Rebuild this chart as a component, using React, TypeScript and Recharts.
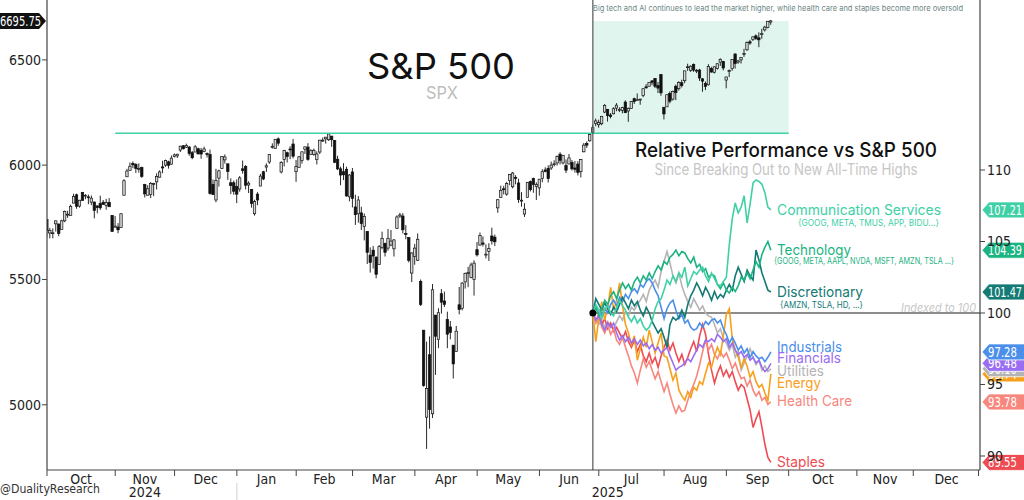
import React from 'react';
import { ComposedChart, Bar, Line, XAxis, YAxis, ReferenceLine, ReferenceArea, ReferenceDot } from 'recharts';

const NARROW = '"Liberation Sans Narrow", "DejaVu Sans Condensed", "Liberation Sans", sans-serif';
const SANS = 'Inter, "Noto Sans", sans-serif';

// S&P 500 daily candles [open, high, low, close], one per trading day from Oct 1 2024
const spxOHLC: number[][] = [
  // Oct 2024
  [5757,5757,5681,5709],[5698,5720,5675,5709],[5698,5718,5675,5699],[5738,5752,5704,5751],[5737,5739,5684,5696],
  [5714,5756,5713,5751],[5751,5796,5745,5792],[5778,5795,5764,5780],[5775,5822,5775,5815],[5829,5871,5829,5859],
  [5866,5871,5804,5815],[5816,5843,5809,5842],[5876,5879,5840,5841],[5860,5869,5846,5864],[5857,5867,5824,5853],
  [5833,5863,5820,5851],[5834,5835,5762,5797],[5817,5817,5784,5809],[5827,5862,5799,5808],[5833,5843,5823,5823],
  [5819,5848,5800,5832],[5832,5851,5812,5813],[5775,5775,5703,5705],
  // Nov
  [5723,5772,5723,5728],[5724,5741,5697,5712],[5722,5784,5722,5782],[5864,5936,5864,5929],[5947,5983,5947,5973],
  [5976,6012,5976,5995],[6008,6017,5986,6001],[6003,6009,5964,5984],[5985,6008,5966,5985],[5989,5993,5942,5949],
  [5912,5915,5854,5870],[5864,5909,5864,5893],[5867,5923,5851,5917],[5917,5920,5860,5917],[5924,5963,5890,5948],
  [5945,5976,5944,5969],[5992,6020,5963,5987],[6000,6025,5992,6021],[6015,6020,5984,5999],[6004,6044,6003,6032],
  // Dec
  [6040,6053,6035,6047],[6042,6052,6033,6050],[6069,6089,6060,6087],[6089,6092,6072,6075],[6082,6099,6079,6090],
  [6083,6088,6043,6053],[6057,6065,6027,6034],[6060,6092,6060,6084],[6075,6080,6051,6051],[6068,6079,6029,6051],
  [6063,6085,6059,6074],[6053,6058,6035,6050],[6048,6071,5867,5872],[5913,5935,5866,5867],[5843,5983,5833,5931],
  [5941,5979,5903,5974],[5985,6040,5982,6040],[6024,6049,6007,6037],[6006,6006,5933,5971],[5920,5940,5869,5907],
  [5920,5930,5866,5882],
  // Jan 2025
  [5903,5935,5829,5869],[5892,5950,5880,5942],[5983,6021,5961,5975],[5994,6000,5890,5909],[5910,5927,5874,5918],
  [5890,5890,5809,5827],[5782,5844,5774,5836],[5869,5878,5820,5843],[5905,5960,5905,5950],[5970,5974,5932,5937],
  [5991,6008,5969,5997],[6014,6051,6006,6049],[6082,6100,6076,6086],[6076,6119,6075,6119],[6121,6128,6089,6101],
  [5969,6018,5962,6012],[6026,6070,5994,6067],[6057,6062,6012,6039],[6074,6087,6027,6071],[6097,6120,6031,6041],
  // Feb
  [5970,6023,5924,5994],[5990,6042,5990,6038],[6021,6062,6007,6061],[6073,6084,6051,6084],[6083,6101,6020,6026],
  [6049,6073,6049,6066],[6049,6076,6043,6068],[6025,6063,6003,6051],[6060,6116,6051,6115],[6115,6127,6107,6115],
  [6121,6129,6099,6129],[6117,6147,6111,6144],[6134,6134,6084,6117],[6114,6114,6009,6013],[6027,6043,5977,5983],
  [5983,5993,5909,5955],[5970,6009,5932,5956],[5981,5993,5858,5861],[5857,5959,5837,5955],
  // Mar
  [5969,5987,5810,5850],[5812,5866,5733,5778],[5782,5860,5743,5843],[5786,5813,5711,5739],[5726,5783,5666,5770],
  [5705,5705,5565,5615],[5603,5636,5529,5572],[5624,5642,5546,5599],[5594,5598,5505,5522],[5563,5646,5563,5639],
  [5635,5704,5628,5675],[5654,5654,5597,5615],[5633,5715,5622,5675],[5646,5711,5641,5663],[5630,5672,5597,5668],
  [5718,5775,5718,5768],[5772,5786,5764,5777],[5772,5785,5696,5712],[5696,5732,5671,5693],[5679,5679,5572,5581],
  [5527,5615,5489,5612],
  // Apr
  [5597,5651,5562,5633],[5581,5696,5578,5671],[5492,5500,5390,5397],[5292,5292,5069,5074],[4953,5246,4835,5062],
  [5194,5267,4910,4982],[4966,5481,4950,5457],[5353,5353,5115,5268],[5255,5381,5220,5363],[5441,5460,5359,5406],
  [5411,5450,5386,5397],[5335,5367,5220,5276],[5305,5329,5255,5283],[5232,5232,5101,5158],[5207,5309,5207,5288],
  [5395,5469,5356,5376],[5381,5489,5372,5485],[5490,5529,5462,5525],[5529,5553,5468,5529],[5508,5571,5505,5561],
  [5500,5581,5433,5569],
  // May
  [5626,5659,5597,5604],[5646,5700,5643,5687],[5655,5683,5640,5650],[5606,5649,5589,5607],[5619,5654,5578,5631],
  [5685,5721,5648,5664],[5680,5691,5642,5660],[5808,5847,5786,5844],[5854,5907,5853,5886],[5893,5906,5868,5892],
  [5869,5924,5862,5917],[5930,5959,5909,5958],[5902,5969,5895,5964],[5944,5954,5913,5940],[5919,5938,5830,5845],
  [5842,5878,5813,5842],[5781,5829,5768,5802],[5855,5922,5855,5922],[5925,5930,5881,5889],[5939,5943,5875,5912],
  [5903,5922,5843,5912],
  // Jun
  [5897,5937,5862,5936],[5939,5981,5922,5970],[5978,5990,5967,5971],[5985,5999,5921,5939],[5987,6016,5978,6000],
  [6004,6022,5994,6006],[6010,6044,5998,6039],[6050,6059,6003,6022],[6010,6045,6003,6045],[5998,6026,5964,5977],
  [6005,6051,6004,6033],[6012,6024,5975,5983],[5987,6019,5966,5981],[6005,6018,5953,5967],[5970,6028,5944,6025],
  [6061,6102,6059,6092],[6100,6109,6079,6092],[6112,6146,6108,6141],[6151,6188,6142,6173],[6193,6216,6180,6205],
  // Jul
  [6187,6211,6173,6198],[6192,6228,6185,6227],[6247,6285,6242,6279],[6260,6262,6202,6230],[6233,6242,6217,6226],
  [6239,6270,6236,6263],[6266,6290,6251,6280],[6256,6270,6247,6260],[6255,6272,6241,6269],[6295,6303,6244,6244],
  [6252,6269,6201,6264],[6264,6300,6264,6297],[6311,6316,6286,6297],[6305,6336,6303,6306],[6307,6310,6282,6309],
  [6326,6360,6318,6359],[6368,6381,6360,6363],[6371,6390,6371,6389],[6397,6401,6376,6390],[6409,6410,6362,6371],
  [6374,6392,6338,6362],[6428,6428,6325,6339],
  // Aug
  [6270,6270,6212,6238],[6272,6330,6272,6330],[6336,6346,6289,6299],[6309,6350,6302,6345],[6371,6379,6304,6340],
  [6359,6395,6350,6389],[6388,6403,6365,6374],[6398,6446,6386,6446],[6463,6481,6446,6466],[6448,6473,6441,6469],
  [6478,6482,6441,6450],[6445,6455,6435,6449],[6450,6456,6397,6411],[6407,6410,6344,6396],[6385,6394,6352,6370],
  [6378,6479,6375,6467],[6457,6466,6438,6440],[6439,6469,6433,6466],[6458,6484,6452,6481],[6489,6508,6470,6502],
  [6492,6495,6448,6460],
  // Sep
  [6401,6417,6361,6416],[6445,6453,6416,6448],[6457,6502,6446,6502],[6529,6533,6457,6482],[6489,6500,6481,6495],
  [6500,6513,6482,6512],[6530,6555,6515,6532],[6550,6592,6545,6587],[6590,6600,6575,6584],[6601,6616,6594,6615],
  [6620,6627,6600,6607],[6610,6638,6563,6600],[6631,6656,6605,6631],[6650,6671,6642,6664],[6662,6695,6658,6694],
  [6690,6700,6676,6695.75],
];

const breakoutIndex = 184;      // trading day of the breakout (Jun 27 2025)
const breakoutLevel = 6147;     // prior all-time high
const lastClose = 6695.75;
const lineStartIndex = 23;      // Nov 2024
const boxEndIndex = 250;        // Oct 2025

// Relative performance vs S&P 500, indexed to 100 at breakout
const commServices = [100,100.6,100.2,99.6,100.3,100.5,100.0,99.8,100.4,100.9,
  100.5,100.2,99.7,99.4,99.8,99.3,99.6,99.1,98.8,99.0,
  99.5,100.3,100.8,101.0,101.6,102.3,102.0,102.6,102.2,102.8,
  102.5,103.2,101.9,102.4,102.9,102.7,103.0,103.2,102.6,102.2,
  102.8,102.4,102.0,101.9,102.2,102.5,104.8,106.6,107.7,107.0,
  107.4,108.2,106.3,107.6,109.1,109.3,109.2,109.0,108.4,107.4,
  107.21];
const technology = [100,100.4,99.8,100.3,100.9,100.6,101.2,101.5,101.0,101.6,
  102.1,101.7,102.0,101.6,102.2,102.5,102.1,102.6,102.3,102.8,
  102.4,102.9,103.3,103.0,103.6,103.4,103.9,104.1,104.4,104.0,
  104.3,104.2,103.8,103.5,103.9,103.2,103.4,102.9,103.1,102.5,
  102.7,102.6,102.0,101.7,102.1,101.6,101.4,101.8,101.5,101.9,
  102.5,102.3,102.8,102.4,103.0,103.6,103.2,104.1,104.6,105.0,
  104.39];
const discretionary = [100,101.0,100.6,100.2,100.7,100.3,99.9,100.4,100.1,100.6,
  101.1,100.7,100.3,100.9,100.5,100.8,100.2,99.8,100.4,100.0,
  99.4,99.0,98.6,98.9,98.3,97.6,99.2,99.7,99.5,99.7,
  100.2,99.7,100.6,101.2,101.6,102.1,101.7,101.2,101.8,101.4,
  100.9,101.5,101.0,101.3,101.1,101.6,102.0,101.6,102.6,103.2,
  102.7,102.2,103.0,102.6,102.3,104.4,103.7,102.8,102.2,101.6,
  101.47];
const industrials = [100,100.5,100.2,99.8,100.3,100.0,100.6,100.9,100.5,101.1,
  100.8,101.3,101.0,101.5,101.7,101.4,102.0,101.8,102.2,102.4,
  102.1,101.6,101.2,100.4,99.6,100.3,100.7,100.9,100.2,99.6,
  99.9,99.3,99.5,99.0,98.8,98.9,99.3,99.0,99.4,99.2,
  99.5,99.6,99.3,99.5,98.9,98.5,97.9,98.3,97.9,97.4,
  97.7,97.2,97.5,96.9,97.3,97.0,96.8,96.9,96.6,96.9,
  97.28];
const financials = [100,99.5,99.8,99.2,98.8,99.3,99.0,99.3,98.6,98.1,
  98.4,98.0,98.3,97.9,98.2,97.8,98.1,97.7,97.9,97.5,
  97.8,97.4,97.6,97.2,97.4,97.6,97.0,96.5,96.0,96.2,
  96.3,96.5,96.8,96.6,97.0,97.4,97.8,97.6,98.1,98.0,
  98.2,98.0,98.5,98.3,98.0,98.2,97.6,97.9,97.4,97.1,
  97.3,96.9,97.1,96.7,96.9,96.5,96.7,96.2,95.9,96.1,
  96.48];
const utilities = [100,99.6,99.2,99.5,99.0,99.4,99.1,98.9,99.4,99.8,
  99.5,100.1,99.8,100.4,100.2,100.6,100.9,101.3,100.8,101.6,
  102.0,102.3,101.8,102.9,103.6,104.3,103.5,102.6,102.1,102.8,
  101.9,101.3,100.8,100.4,101.0,100.6,100.2,100.5,100.0,99.8,
  99.7,99.2,98.6,98.9,98.2,97.9,97.4,97.8,96.9,97.3,
  96.0,96.5,97.0,97.5,96.9,96.4,96.7,96.0,96.3,95.9,
  96.1];
const energy = [100,98.0,99.6,100.8,99.5,100.4,101.8,100.2,100.9,102.1,
  100.5,99.2,98.6,97.8,98.4,96.7,97.5,98.3,97.6,98.8,
  98.0,97.2,97.9,98.6,97.0,96.9,96.1,95.3,95.8,94.6,
  94.2,93.9,94.5,94.1,94.8,94.6,95.2,95.0,95.8,96.5,
  96.2,97.0,97.6,97.1,98.4,99.9,100.3,98.2,97.4,96.9,
  96.2,96.8,96.3,95.5,95.9,95.2,94.8,95.0,94.4,93.9,
  95.74];
const healthCare = [100,99.3,99.8,99.0,98.6,99.2,98.5,98.9,98.1,97.8,
  98.3,97.6,97.0,96.3,95.8,95.1,96.0,96.8,96.2,96.6,
  96.0,95.4,95.9,95.2,94.5,95.1,94.3,93.6,93.0,93.5,
  93.1,93.2,93.9,94.5,95.0,95.6,96.4,97.3,98.1,97.4,
  97.8,97.1,96.8,97.3,96.9,97.2,96.7,96.1,96.5,95.9,
  95.4,95.5,94.9,95.3,94.6,94.2,94.5,93.9,94.1,93.6,
  93.78];
const staples = [100,99.4,99.9,99.2,99.6,98.9,99.3,98.7,99.0,98.6,
  98.2,98.7,98.0,97.6,98.1,97.3,97.8,97.0,96.6,97.2,
  96.5,96.9,96.2,97.0,97.6,98.1,97.4,97.9,97.2,96.6,
  97.1,96.4,96.9,97.5,98.0,97.3,98.4,99.2,98.5,97.1,
  96.0,95.1,95.8,96.3,95.6,96.0,95.5,95.9,95.2,94.6,
  95.0,94.8,94.0,93.2,92.0,92.6,93.1,92.0,90.8,89.9,
  89.55];

// drawing order (bottom to top)
const sectors = [
  { key: 'utilities', name: 'Utilities', values: utilities, color: '#b4b4b4' },
  { key: 'staples', name: 'Staples', values: staples, color: '#ef4b52' },
  { key: 'healthCare', name: 'Health Care', values: healthCare, color: '#f7877d' },
  { key: 'energy', name: 'Energy', values: energy, color: '#f7a01c' },
  { key: 'financials', name: 'Financials', values: financials, color: '#9a6ef2' },
  { key: 'industrials', name: 'Industrials', values: industrials, color: '#4b8fea' },
  { key: 'discretionary', name: 'Discretionary', values: discretionary, color: '#137a74' },
  { key: 'technology', name: 'Technology', values: technology, color: '#1cb382' },
  { key: 'commServices', name: 'Communication Services', values: commServices, color: '#40d0a6' },
];
const tagOrder = ['staples', 'healthCare', 'energy', 'utilities', 'financials', 'industrials', 'discretionary', 'technology', 'commServices'];

const monthStarts = [0, 23, 43, 64, 84, 103, 124, 145, 166, 186, 208, 229, 250, 273, 292, 314];
const monthMids = [11.5, 33, 53.5, 74, 93.5, 113.5, 134.5, 155.5, 176, 197, 218.5, 239.5, 261.5, 282.5, 303.25];
const monthNames = ['Oct', 'Nov', 'Dec', 'Jan', 'Feb', 'Mar', 'Apr', 'May', 'Jun', 'Jul', 'Aug', 'Sep', 'Oct', 'Nov', 'Dec'];
const yearTicks = [33, 189];
const yearNames = ['2024', '2025'];
const yearDivider = 64;
const leftTicks = [5000, 5500, 6000, 6500];
const rightTicks = [90, 95, 100, 105, 110];

const rows = spxOHLC.map(([o, h, l, c], i) => {
  const row: any = { i, o, h, l, c, range: [l, h] };
  if (i >= breakoutIndex) {
    for (const s of sectors) row[s.key] = s.values[i - breakoutIndex];
  }
  return row;
});

const xTicks = Array.from(new Set([...monthStarts, ...monthMids, ...yearTicks])).sort((a, b) => a - b);

const XTick = (props: any) => {
  const { x, y, payload } = props;
  const v = payload?.value;
  const els: any[] = [];
  if (monthStarts.includes(v)) els.push(<line key="t" x1={x} x2={x} y1={y} y2={y + 6} stroke="#444" strokeWidth={1} />);
  if (v === yearDivider) els.push(<line key="d" x1={x} x2={x} y1={y + 13} y2={y + 30} stroke="#cfcfcf" strokeWidth={1} />);
  const m = monthMids.indexOf(v);
  if (m >= 0) els.push(<text key="m" x={x} y={y + 13.5} textAnchor="middle" fontSize={14} fill="#222" fontFamily={NARROW}>{monthNames[m]}</text>);
  const yi = yearTicks.indexOf(v);
  if (yi >= 0) els.push(<text key="y" x={x} y={y + 27} textAnchor="middle" fontSize={14} fill="#222" fontFamily={NARROW}>{yearNames[yi]}</text>);
  return <g>{els}</g>;
};

const Candle = (props: any) => {
  const { x, y, width, height, payload } = props;
  if (!payload || x == null || y == null) return null;
  const { o, h, l, c } = payload;
  const top = Math.min(y, y + height);
  const bot = Math.max(y, y + height);
  const span = Math.log(h) - Math.log(l);
  const toY = (v: number) => (span > 0 ? top + ((Math.log(h) - Math.log(v)) / span) * (bot - top) : top);
  const cx = x + width / 2;
  const yo = toY(o);
  const yc = toY(c);
  const up = c >= o;
  const bw = 2.4;
  return (
    <g>
      <line x1={cx} x2={cx} y1={top} y2={bot} stroke="#111" strokeWidth={0.9} />
      <rect x={cx - bw / 2} y={Math.min(yo, yc)} width={bw} height={Math.max(0.9, Math.abs(yc - yo))}
        fill={up ? '#d8d8d8' : '#111'} stroke="#111" strokeWidth={0.7} />
    </g>
  );
};

const RightTag = (props: any) => {
  const { viewBox, tagText, tagColor } = props;
  if (!viewBox) return null;
  const x = viewBox.x + viewBox.width;
  const y = viewBox.y;
  const hh = 8;
  const w = tagText.length >= 6 ? 34 : 29;
  return (
    <g>
      <polygon points={`${x + 2},${y} ${x + 9},${y - hh} ${x + 60},${y - hh} ${x + 60},${y + hh} ${x + 9},${y + hh}`}
        fill={tagColor} stroke="#fff" strokeWidth={0.8} />
      <text x={x + 8} y={y + 5} fill="#fff" fontSize={14} fontFamily={NARROW}
        textLength={w} lengthAdjust="spacingAndGlyphs">{tagText}</text>
    </g>
  );
};

const LeftTag = (props: any) => {
  const { viewBox, tagText } = props;
  if (!viewBox) return null;
  const x = viewBox.x;
  const y = viewBox.y;
  const hh = 8;
  return (
    <g>
      <polygon points={`-2,${y - hh} ${x - 8},${y - hh} ${x - 1},${y} ${x - 8},${y + hh} -2,${y + hh}`} fill="#111" />
      <text x={x - 47} y={y + 5} fill="#fff" fontSize={14} fontFamily={NARROW}
        textLength={41} lengthAdjust="spacingAndGlyphs">{tagText}</text>
    </g>
  );
};

// annotation layout
const labelLayout: Record<string, { y: number; w: number }> = {
  commServices: { y: 210, w: 164 },
  technology: { y: 250, w: 74 },
  discretionary: { y: 292, w: 86 },
  industrials: { y: 347, w: 65 },
  financials: { y: 358, w: 64 },
  utilities: { y: 371, w: 47 },
  energy: { y: 383, w: 44 },
  healthCare: { y: 401, w: 75 },
  staples: { y: 462, w: 48 },
};
const subLabels = [
  { key: 'commServices', text: '{GOOG, META, TMUS, APP, BIDU...}', x: 798, y: 223, w: 141 },
  { key: 'technology', text: '{GOOG, META, AAPL, NVDA, MSFT, AMZN, TSLA ...}', x: 774, y: 261, w: 180 },
  { key: 'discretionary', text: '{AMZN, TSLA,  HD, ...}', x: 780, y: 305, w: 83 },
];

export default function App() {
  const colorOf = (k: string) => sectors.find((s) => s.key === k)!.color;
  return (
    <div style={{ position: 'absolute', left: 0, top: 0, width: 1024, height: 500, background: '#fff', overflow: 'hidden' }}>
      <ComposedChart width={1024} height={500} data={rows} margin={{ top: 0, right: 0, bottom: 0, left: 0 }}>
        <XAxis xAxisId="x" type="number" dataKey="i" domain={[0, 314.5]} allowDataOverflow ticks={xTicks} interval={0}
          tickLine={false} tickSize={0} tickMargin={0} height={30} axisLine={{ stroke: '#444', strokeWidth: 1.2 }} tick={<XTick />} />
        <YAxis yAxisId="spx" scale="log" domain={[4758, 6803]} allowDataOverflow ticks={leftTicks} interval={0} width={47}
          tickSize={5} tickMargin={1} axisLine={{ stroke: '#444', strokeWidth: 1.2 }} tickLine={{ stroke: '#444' }}
          tick={{ fontSize: 14, fill: '#222', fontFamily: NARROW }} />
        <YAxis yAxisId="rel" orientation="right" domain={[89.02, 121.89]} allowDataOverflow ticks={rightTicks} interval={0} width={44}
          tickSize={5} tickMargin={2} axisLine={{ stroke: '#444', strokeWidth: 1.2 }} tickLine={{ stroke: '#444' }}
          tick={{ fontSize: 14, fill: '#222', fontFamily: NARROW, textAnchor: 'start' }} />

        <ReferenceArea xAxisId="x" yAxisId="spx" x1={breakoutIndex} x2={boxEndIndex} y1={breakoutLevel} y2={lastClose}
          fill="#e1f5ef" fillOpacity={1} stroke="none" />
        <ReferenceLine xAxisId="x" yAxisId="spx" segment={[{ x: lineStartIndex, y: breakoutLevel }, { x: boxEndIndex, y: breakoutLevel }]}
          stroke="#3fcfa6" strokeWidth={1.5} />
        <ReferenceLine xAxisId="x" yAxisId="spx" x={breakoutIndex} stroke="#555" strokeWidth={1.2} />

        <Bar xAxisId="x" yAxisId="spx" dataKey="range" barSize={3} isAnimationActive={false}
          shape={(p: any) => <Candle {...p} />} />

        <ReferenceLine xAxisId="x" yAxisId="rel" segment={[{ x: breakoutIndex, y: 100 }, { x: 314.5, y: 100 }]}
          stroke="#8c8c8c" strokeWidth={2} />

        {sectors.map((s) => (
          <Line key={s.key} xAxisId="x" yAxisId="rel" dataKey={s.key} stroke={s.color} strokeWidth={1.6}
            dot={false} activeDot={false} isAnimationActive={false} connectNulls={false} />
        ))}

        <ReferenceDot xAxisId="x" yAxisId="rel" x={breakoutIndex} y={100} r={3.5} fill="#000" stroke="none" />

        <ReferenceLine xAxisId="x" yAxisId="spx" y={lastClose} stroke="none"
          label={<LeftTag tagText={lastClose.toFixed(2)} />} />
        {tagOrder.map((k) => {
          const s = sectors.find((q) => q.key === k)!;
          const v = s.values[s.values.length - 1];
          return (
            <ReferenceLine key={'tag-' + k} xAxisId="x" yAxisId="rel" y={v} stroke="none"
              label={<RightTag tagText={v.toFixed(2)} tagColor={s.color} />} />
          );
        })}
      </ComposedChart>

      <svg width={1024} height={500} style={{ position: 'absolute', left: 0, top: 0, pointerEvents: 'none' }}>
        <text x={593} y={11} fontSize={8} fill="#6d8684" fontFamily={SANS} textLength={370} lengthAdjust="spacingAndGlyphs">
          Big tech and AI continues to lead the market higher, while health care and staples become more oversold
        </text>
        <text x={441} y={79} textAnchor="middle" fontSize={36} fontWeight={400} fill="#111" fontFamily={SANS}
          textLength={148} lengthAdjust="spacingAndGlyphs">S&amp;P 500</text>
        <text x={442} y={99} textAnchor="middle" fontSize={17} fill="#bdbdbd" fontFamily={SANS}
          textLength={32} lengthAdjust="spacingAndGlyphs">SPX</text>
        <text x={786} y={157} textAnchor="middle" fontSize={20} fontWeight={450} fill="#111" fontFamily={SANS}
          textLength={302} lengthAdjust="spacingAndGlyphs">Relative Performance vs S&amp;P 500</text>
        <text x={786} y={175} textAnchor="middle" fontSize={16} fill="#c6c6c6" fontFamily={SANS}
          textLength={263} lengthAdjust="spacingAndGlyphs">Since Breaking Out to New All-Time Highs</text>
        {sectors.map((s) => {
          const L = labelLayout[s.key];
          return (
            <text key={'lbl-' + s.key} x={777} y={L.y + 5.2} fontSize={14.5} fill={s.color} fontFamily={SANS}
              textLength={L.w} lengthAdjust="spacingAndGlyphs">{s.name}</text>
          );
        })}
        {subLabels.map((t) => (
          <text key={'sub-' + t.key} x={t.x} y={t.y + 3.3} fontSize={9} fill={colorOf(t.key)} fontFamily={SANS}
            textLength={t.w} lengthAdjust="spacingAndGlyphs">{t.text}</text>
        ))}
        <text x={901} y={312} fontSize={11.5} fontStyle="italic" fill="#c8c8c8" fontFamily={SANS}
          textLength={75} lengthAdjust="spacingAndGlyphs">Indexed to 100</text>
        <text x={0} y={493} fontSize={13} fill="#333" fontFamily={NARROW}
          textLength={100} lengthAdjust="spacingAndGlyphs">@DualityResearch</text>
      </svg>
    </div>
  );
}
